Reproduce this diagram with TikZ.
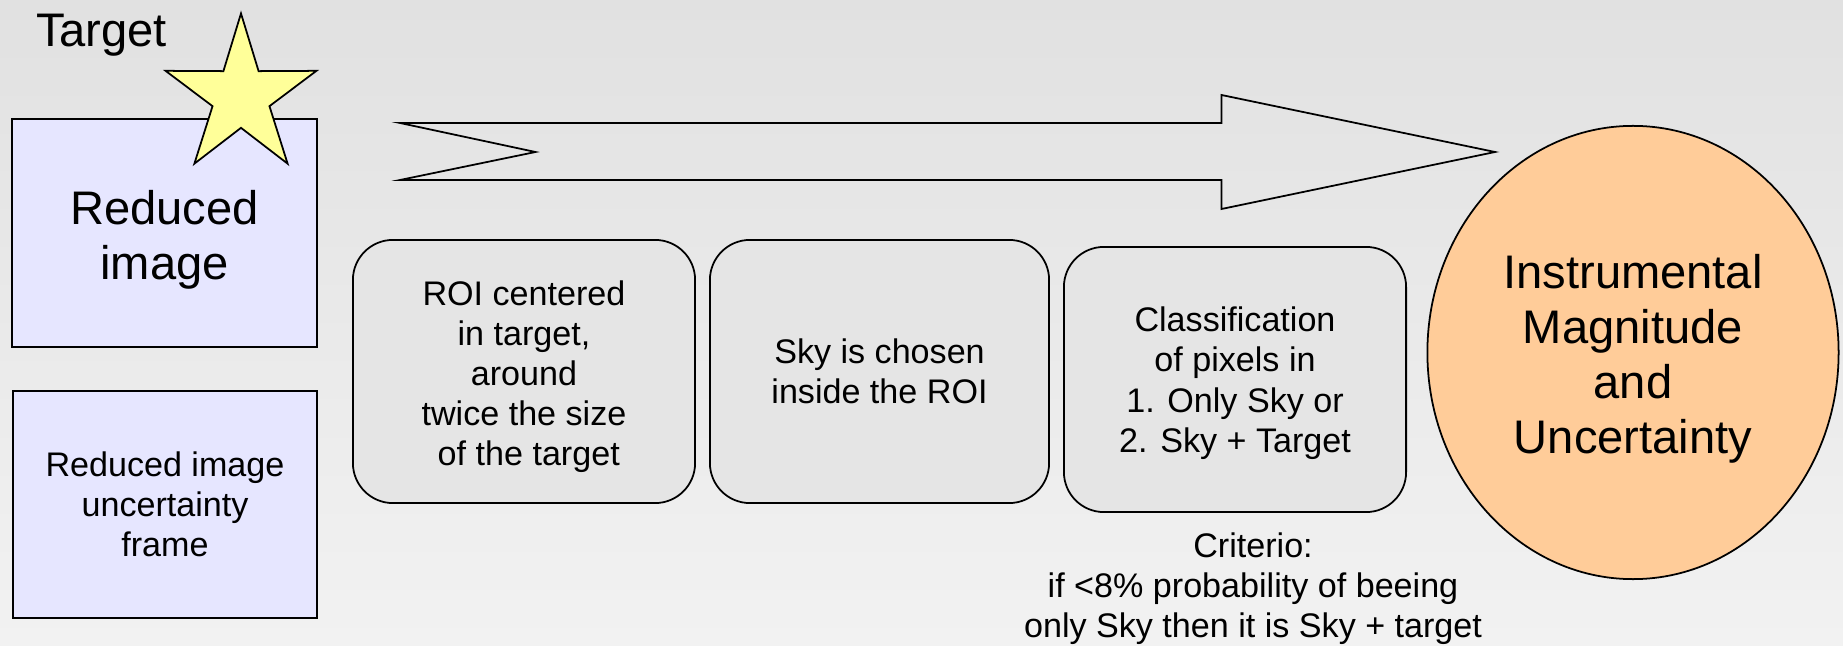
\documentclass[tikz,border=0pt]{standalone}
\usepackage{fontspec}
\setmainfont{Liberation Sans}
\usetikzlibrary{shapes.geometric}
\definecolor{imgblue}{RGB}{230,230,255}
\definecolor{staryellow}{RGB}{255,255,153}
\definecolor{resorange}{RGB}{255,204,153}
\definecolor{stepgray}{RGB}{229,229,229}
\definecolor{bgtop}{RGB}{225,225,225}
\definecolor{bgbottom}{RGB}{242,242,242}
\newcommand{\bigtxt}{\fontsize{13.4}{15.65}\selectfont}
\newcommand{\smalltxt}{\fontsize{9.7}{11.4}\selectfont}
\newcommand{\topgap}[1]{\rule{0pt}{#1}}
\tikzset{
	imgbox/.style={draw, line width=0.5pt, fill=imgblue, align=center, inner sep=0pt},
	stepbox/.style={draw, line width=0.5pt, fill=stepgray, rounded corners=0.4cm, align=center, inner sep=0pt, minimum width=3.42cm, minimum height=2.63cm, font=\smalltxt}
}

\begin{document}
\begin{tikzpicture}[x=0.01cm, y=-0.01cm]
			%%%%% START %%%%%
			
			\shade[top color=bgtop, bottom color=bgbottom] (0,0) rectangle (1843,646);
			\useasboundingbox (0,0) rectangle (1843,646);
			
			% input frames
			\node[imgbox, minimum width=3.05cm, minimum height=2.28cm, font=\bigtxt] (redimg) at (164.5,233) {\topgap{0.47cm}Reduced\\image};
			\node[imgbox, minimum width=3.04cm, minimum height=2.27cm, font=\smalltxt] (uncimg) at (165,504.5) {Reduced image\\uncertainty\\frame};
			
			\begin{scope}[shift={(241,96.5)}, xscale=0.955]
				\node[star, star points=5, star point ratio=2.65, minimum size=1.66cm, inner sep=0pt, draw, line width=0.5pt, fill=staryellow, transform shape] (tgtstar) at (0,0) {};
			\end{scope}
			\node[font=\bigtxt, anchor=base] (tgtlabel) at (101.5,47) {Target};
			
			% big arrow
			\draw[line width=0.5pt] (400,123) -- (1221.5,123) -- (1221.5,95) -- (1495,152) -- (1221.5,209) -- (1221.5,180) -- (400,180) -- (535.5,152) -- cycle;
			
			% steps
			\node[stepbox] (roi) at (524,371.5) {\topgap{0.35cm}ROI centered\\in target,\\around\\twice the size\\\hphantom{\ }of the target};
			\node[stepbox, minimum width=3.39cm] (sky) at (879.5,371.5) {Sky is chosen\\inside the ROI};
			\node[stepbox, minimum height=2.65cm] (cls) at (1235,379.5) {\topgap{0.32cm}Classification\\of pixels in\\1. Only Sky or\\2. Sky + Target};
			\node[font=\smalltxt, align=center] (crit) at (1253,589) {Criterio:\\if <8\% probability of beeing\\only Sky then it is Sky + target};
			
			% result
			\node[ellipse, draw, line width=0.5pt, fill=resorange, minimum width=4.11cm, minimum height=4.53cm, inner sep=0pt, align=center, font=\bigtxt] (result) at (1633,352.5) {\topgap{0.46cm}Instrumental\\Magnitude\\and\\Uncertainty};
			
			%%%%% END %%%%%
\end{tikzpicture}
\end{document}
